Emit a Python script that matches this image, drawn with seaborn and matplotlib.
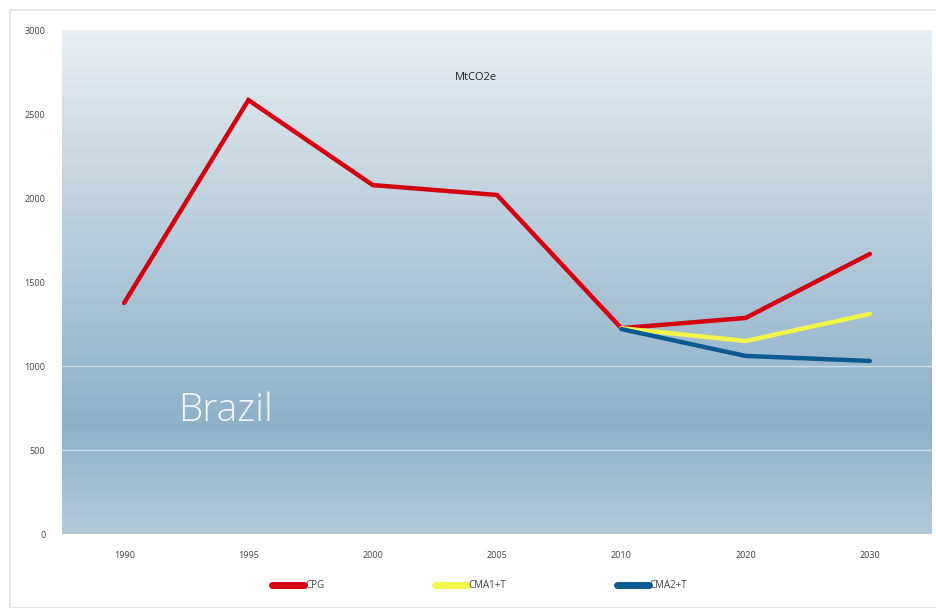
import numpy as np
import pandas as pd
import matplotlib
matplotlib.use("Agg")
import matplotlib.pyplot as plt
from matplotlib.colors import LinearSegmentedColormap
from matplotlib.patches import Rectangle
from matplotlib.lines import Line2D
import seaborn as sns

years = ["1990", "1995", "2000", "2005", "2010", "2020", "2030"]
cpg = [1375, 2583, 2077, 2018, 1225, 1286, 1667]
cma1_years = ["2010", "2020", "2030"]
cma1 = [1225, 1149, 1310]
cma2_years = ["2010", "2020", "2030"]
cma2 = [1220, 1060, 1030]
series_names = ["CPG", "CMA1+T", "CMA2+T"]
colors = ["#d3000f", "#f4f54a", "#0a5a92"]
yticks = [0, 500, 1000, 1500, 2000, 2500, 3000]

df = pd.concat([
    pd.DataFrame({"year": years, "value": cpg, "series": series_names[0]}),
    pd.DataFrame({"year": cma1_years, "value": cma1, "series": series_names[1]}),
    pd.DataFrame({"year": cma2_years, "value": cma2, "series": series_names[2]}),
])
df["xpos"] = df["year"].map({y: i for i, y in enumerate(years)})

sns.set_theme(style="white")
plt.rcParams["font.family"] = ["Open Sans", "DejaVu Sans"]

fig = plt.figure(figsize=(9.37, 6.08), dpi=100)
fig.patch.set_facecolor("white")
fig.patches.append(Rectangle((10/937, 0), 1.0, 1 - 10/608, transform=fig.transFigure,
                             facecolor="none", edgecolor="#e2e2e2", lw=1.2, zorder=0))

ax = fig.add_axes([62/937, 1 - 534/608, (932 - 62)/937, (534 - 30)/608])

# gradient background
cmap = LinearSegmentedColormap.from_list(
    "bg", [(0.0, "#b3c9d9"), (0.22, "#8fb1c8"), (0.45, "#a7c2d4"),
           (0.75, "#cbd9e3"), (1.0, "#e9eef2")])
grad = np.linspace(0, 1, 256).reshape(-1, 1)
ax.imshow(grad, aspect="auto", cmap=cmap, origin="lower",
          extent=[0, 1, 0, 1], transform=ax.transAxes, zorder=0)

for yv in [500, 1000, 2500]:
    ax.axhline(yv, color="#dbe6ee", lw=1.0, alpha=0.8, zorder=1)

sns.lineplot(data=df, x="xpos", y="value", hue="series", hue_order=series_names,
             palette=colors, lw=3.2, ax=ax, legend=False, zorder=3,
             solid_capstyle="round", solid_joinstyle="miter")

ax.set_xlim(-0.5, len(years) - 0.5)
ax.set_ylim(0, 3000)
ax.set_xticks(range(len(years)))
ax.set_xticklabels(years)
ax.set_yticks(yticks)
ax.set_yticklabels([str(v) for v in yticks])
ax.tick_params(axis="both", length=0, labelsize=6.5, colors="#404040")
ax.tick_params(axis="x", pad=12)
ax.tick_params(axis="y", pad=12)
ax.set_xlabel("")
ax.set_ylabel("")
for s in ax.spines.values():
    s.set_visible(False)

ax.text(0.476, 0.905, "MtCO2e", transform=ax.transAxes, ha="center", va="center",
        fontsize=8, color="#222222")
ax.text(0.133, 0.245, "Brazil", transform=ax.transAxes, ha="left", va="center",
        fontsize=28, color="#f4f8fb", fontweight="light")

handles = [Line2D([0], [0], color=c, lw=5, solid_capstyle="round") for c in colors]
fig.legend(handles, series_names, loc="center", bbox_to_anchor=(0.512, 1 - 586/608),
           ncol=3, frameon=False, fontsize=7, handlelength=3.3, handletextpad=0.1,
           columnspacing=11.4, labelcolor="#404040")

fig.savefig("out.png", dpi=100, facecolor="white")
